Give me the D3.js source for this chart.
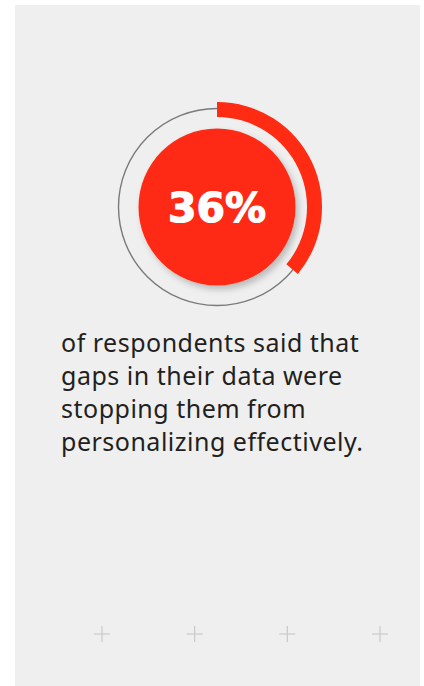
<!DOCTYPE html>
<html>
<head>
<meta charset="utf-8">
<script src="https://cdn.jsdelivr.net/npm/d3@7"></script>
<style>
  html, body { margin: 0; padding: 0; background: #fff; }
  svg { display: block; }
  .value { font-family: "DejaVu Sans", sans-serif; font-weight: bold; fill: #fff; stroke: #fff; stroke-width: 1.2; }
  .caption { font-family: "Noto Sans", "Open Sans", sans-serif; fill: #231f20; letter-spacing: 0.5px; }
  .plus { stroke: #c9c9c9; stroke-width: 1.2; }
</style>
</head>
<body>
<div id="chart"></div>
<script>
  var percent = 0.36;
  var valueLabel = ['36%'];
  var captionLines = [
    'of respondents said that',
    'gaps in their data were',
    'stopping them from',
    'personalizing effectively.'
  ];
  var markers = ['+', '+', '+', '+'];

  var settings = {
    width: 424,
    height: 686,
    panel: { x: 15, y: 5, w: 405, h: 681 },
    center: { x: 217, y: 207 },
    colors: { red: '#ff2b13', ring: '#7a7a7a', panel: '#efefef' }
  };

  drawCard( settings );

  function drawCard( s ) {
    var chart = d3.select('#chart')
      .append('svg')
      .attr('width', s.width )
      .attr('height', s.height );

    var defs = chart.append('defs');
    var shadow = defs.append('filter')
      .attr('id', 'shadow')
      .attr('x', '-20%').attr('y', '-20%')
      .attr('width', '150%').attr('height', '150%');
    shadow.append('feDropShadow')
      .attr('dx', 3).attr('dy', 4)
      .attr('stdDeviation', 3)
      .attr('flood-color', '#000')
      .attr('flood-opacity', 0.22);

    chart.append('rect')
      .attr('x', s.panel.x )
      .attr('y', s.panel.y )
      .attr('width', s.panel.w )
      .attr('height', s.panel.h )
      .style('fill', s.colors.panel );

    var angle = d3.scaleLinear().domain([0, 1]).range([0, 2 * Math.PI]);

    var group = chart.append('g')
      .attr('transform', 'translate(' + s.center.x + ',' + s.center.y + ')');

    // thin grey track
    group.append('circle')
      .attr('r', 98.5)
      .style('fill', 'none')
      .style('stroke', s.colors.ring )
      .style('stroke-width', 1.4);

    var arc = d3.arc()
      .innerRadius(90)
      .outerRadius(105)
      .startAngle( angle(0) );

    group.append('path')
      .datum({ endAngle: angle( percent ) })
      .attr('d', arc )
      .style('fill', s.colors.red );

    group.append('circle')
      .attr('r', 78.5)
      .attr('filter', 'url(#shadow)')
      .style('fill', s.colors.red );

    group.selectAll('.value')
      .data( valueLabel )
      .enter()
      .append('text')
      .classed('value', true)
      .attr('text-anchor', 'middle')
      .attr('y', 15)
      .style('font-size', '41px')
      .text( function (d) { return d; });

    var lineY = d3.scaleLinear().domain([0, 1]).range([351.5, 384.7]);

    chart.selectAll('.caption')
      .data( captionLines )
      .enter()
      .append('text')
      .classed('caption', true)
      .attr('x', 61)
      .attr('y', function (d, i) { return lineY(i); })
      .style('font-size', '25px')
      .text( function (d) { return d; });

    var plusX = d3.scalePoint().domain( d3.range( markers.length ) ).range([102, 380]);

    var plus = chart.selectAll('.plus')
      .data( markers )
      .enter()
      .append('g')
      .classed('plus', true)
      .attr('transform', function (d, i) { return 'translate(' + plusX(i) + ',634)'; });

    plus.append('line').attr('x1', -8).attr('x2', 8);
    plus.append('line').attr('y1', -8).attr('y2', 8);
  }
</script>
</body>
</html>
